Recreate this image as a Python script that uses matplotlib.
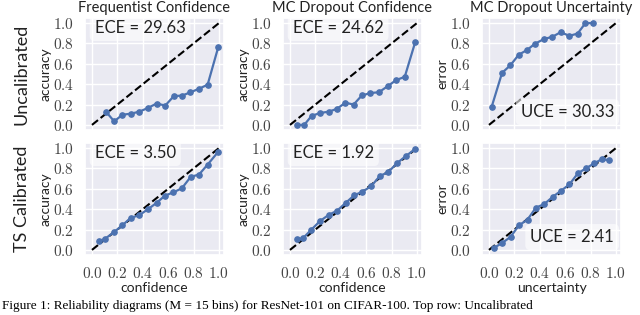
import matplotlib
matplotlib.use("Agg")
import matplotlib.pyplot as plt
import seaborn as sns
from matplotlib.ticker import FuncFormatter

sns.set_theme(style="darkgrid")
plt.rcParams['font.family'] = ['Lato', 'DejaVu Sans']
plt.rcParams['mathtext.fontset'] = 'cm'

# ---- data ----
ticks = [0.0, 0.2, 0.4, 0.6, 0.8, 1.0]
col_titles = ["Frequentist Confidence", "MC Dropout Confidence", "MC Dropout Uncertainty"]
row_titles = ["Uncalibrated", "TS Calibrated"]
ylabels = ["accuracy", "accuracy", "error"]
xlabels = ["confidence", "confidence", "uncertainty"]

freq_unc_x = [0.11, 0.175, 0.24, 0.305, 0.373, 0.44, 0.509, 0.577, 0.645, 0.71, 0.775, 0.843, 0.911, 0.995]
freq_unc_y = [0.13, 0.035, 0.10, 0.11, 0.13, 0.166, 0.21, 0.19, 0.283, 0.288, 0.32, 0.355, 0.395, 0.765]

mc_unc_x = [0.057, 0.112, 0.171, 0.239, 0.304, 0.369, 0.436, 0.501, 0.566, 0.634, 0.701, 0.769, 0.836, 0.904, 0.987]
mc_unc_y = [0.0, 0.0, 0.09, 0.117, 0.13, 0.157, 0.218, 0.20, 0.289, 0.313, 0.321, 0.38, 0.44, 0.472, 0.815]

unc_unc_x = [0.021, 0.103, 0.168, 0.235, 0.299, 0.363, 0.433, 0.5, 0.564, 0.634, 0.698, 0.76, 0.822]
unc_unc_y = [0.177, 0.511, 0.585, 0.69, 0.735, 0.798, 0.843, 0.866, 0.91, 0.875, 0.897, 1.0, 1.0]

freq_cal_x = [0.057, 0.104, 0.17, 0.24, 0.305, 0.371, 0.439, 0.509, 0.574, 0.64, 0.708, 0.778, 0.843, 0.911, 0.992]
freq_cal_y = [0.087, 0.11, 0.172, 0.242, 0.315, 0.34, 0.398, 0.462, 0.532, 0.565, 0.605, 0.718, 0.74, 0.838, 0.96]

mc_cal_x = [0.052, 0.102, 0.168, 0.236, 0.304, 0.372, 0.44, 0.505, 0.571, 0.639, 0.707, 0.775, 0.843, 0.911, 0.982]
mc_cal_y = [0.107, 0.114, 0.198, 0.283, 0.343, 0.386, 0.463, 0.535, 0.573, 0.624, 0.725, 0.765, 0.852, 0.92, 0.987]

unc_cal_x = [0.041, 0.103, 0.17, 0.235, 0.304, 0.369, 0.436, 0.505, 0.57, 0.634, 0.701, 0.768, 0.83, 0.892, 0.948]
unc_cal_y = [0.022, 0.067, 0.128, 0.24, 0.298, 0.414, 0.451, 0.524, 0.583, 0.644, 0.753, 0.804, 0.851, 0.893, 0.879]

series = [[(freq_unc_x, freq_unc_y), (mc_unc_x, mc_unc_y), (unc_unc_x, unc_unc_y)],
          [(freq_cal_x, freq_cal_y), (mc_cal_x, mc_cal_y), (unc_cal_x, unc_cal_y)]]
scores = [["ECE = 29.63", "ECE = 24.62", "UCE = 30.33"],
          ["ECE = 3.50", "ECE = 1.92", "UCE = 2.41"]]

fig = plt.figure(figsize=(6.4, 3.15), dpi=100)
lefts = [85 / 640, 283 / 640, 482 / 640]
bottoms = [1 - 130 / 315, 1 - 255 / 315]
w = 139 / 640
h = 112 / 315

fmt = FuncFormatter(lambda v, p: r'$%.1f$' % v)
blue = "#4C72B0"

for r in range(2):
    for c in range(3):
        ax = fig.add_axes([lefts[c], bottoms[r], w, h])
        ax.plot([0, 1], [0, 1], '--', color='black', lw=1.5, zorder=2)
        xs, ys = series[r][c]
        ax.plot(xs, ys, '-o', color=blue, lw=1.6, ms=3.8, zorder=3)
        ax.set_xlim(-0.055, 1.04)
        ax.set_ylim(-0.05, 1.05)
        ax.set_xticks(ticks)
        ax.set_yticks(ticks)
        ax.yaxis.set_major_formatter(fmt)
        ax.xaxis.set_major_formatter(fmt)
        ax.tick_params(axis='both', labelsize=11, pad=2, colors='#444444')
        ax.set_ylabel(ylabels[c], fontsize=10, labelpad=1, color='#222222')
        if r == 0:
            ax.set_xticklabels([])
            ax.set_title(col_titles[c], fontsize=10.5, pad=4, color='#222222')
        else:
            ax.set_xlabel(xlabels[c], fontsize=10, labelpad=1, color='#222222')
        box = dict(boxstyle='round,pad=0.3', facecolor='white', alpha=0.6, edgecolor='none')
        if c < 2:
            ax.text(0.07, 0.91, scores[r][c], transform=ax.transAxes, fontsize=12,
                    ha='left', va='center', bbox=box, color='#222222')
        else:
            ax.text(0.95, 0.16, scores[r][c], transform=ax.transAxes, fontsize=12,
                    ha='right', va='center', bbox=box, color='#222222')

for r in range(2):
    yc = bottoms[r] + h / 2
    fig.text(22 / 640, yc, row_titles[r], rotation=90, ha='center', va='center',
             fontsize=13, color='#222222')

fig.text(0.003, 0.008, "Figure 1: Reliability diagrams (M = 15 bins) for ResNet-101 on CIFAR-100. Top row: Uncalibrated",
         fontsize=9.5, family='Liberation Serif', ha='left', va='bottom', color='black')

fig.savefig("out.png", dpi=100)
